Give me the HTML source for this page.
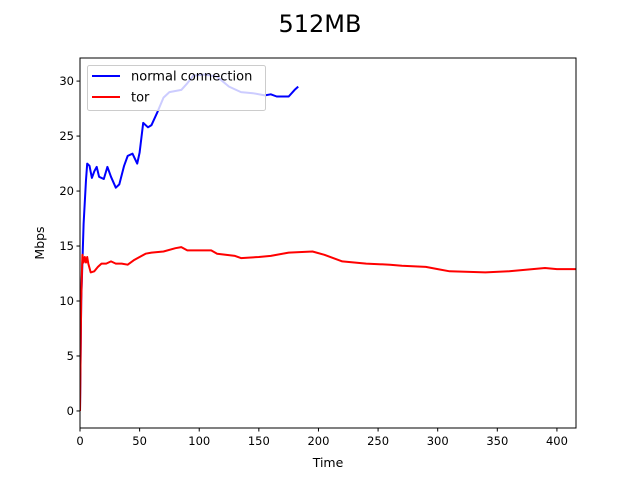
<!DOCTYPE html>
<html><head><meta charset="utf-8"><style>body{margin:0;background:#fff}svg{display:block;font-family:"DejaVu Sans","Liberation Sans",sans-serif}</style></head>
<body>
<svg id="chart" width="640" height="480"></svg>
<script>
const xTicks=[0,50,100,150,200,250,300,350,400];
const yTicks=[0,5,10,15,20,25,30];
const blueT=[0,1,3,5,6,8,10,12,14,16,20,23,26,30,33,37,40,44,48,50,53,57,60,65,70,75,85,90,95,105,115,125,135,145,155,160,165,175,180,183];
const blueV=[0,10,17,21,22.5,22.3,21.2,21.8,22.2,21.3,21.1,22.2,21.3,20.3,20.6,22.3,23.2,23.4,22.5,23.5,26.2,25.8,26,27.2,28.5,29,29.2,29.8,30.5,30.6,30.4,29.5,29,28.9,28.7,28.8,28.6,28.6,29.2,29.5];
const redT=[0,1,2,3,4,5,6,7,9,12,15,18,22,26,30,35,40,45,50,55,60,70,80,85,90,110,115,130,135,150,160,175,195,205,220,240,260,270,290,300,310,340,360,390,400,416];
const redV=[0,10,14.2,13.5,14,13.5,14,13.4,12.6,12.7,13.1,13.4,13.4,13.6,13.4,13.4,13.3,13.7,14,14.3,14.4,14.5,14.8,14.9,14.6,14.6,14.3,14.1,13.9,14,14.1,14.4,14.5,14.2,13.6,13.4,13.3,13.2,13.1,12.9,12.7,12.6,12.7,13,12.9,12.9];
const L=80,R=576,T=58,B=428,xmin=0,xmax=416,ymin=-1.55,ymax=32.1;
const X=v=>L+(v-xmin)/(xmax-xmin)*(R-L);
const Y=v=>B-(v-ymin)/(ymax-ymin)*(B-T);
const svg=document.getElementById('chart');
const NS='http://www.w3.org/2000/svg';
function mk(t,a,p){const e=document.createElementNS(NS,t);for(const k in a)e.setAttribute(k,a[k]);(p||svg).appendChild(e);return e;}
const clip=mk('clipPath',{id:'c'});mk('rect',{x:L,y:T,width:R-L,height:B-T},clip);
const g=mk('g',{'clip-path':'url(#c)'});
function lineG(ts,vs,c,name){
 const d=ts.map((t,i)=>(i?'L':'M')+X(t).toFixed(1)+','+Y(vs[i]).toFixed(1)).join('');
 const p=mk('path',{d:d,fill:'none',stroke:c,'stroke-width':2,'stroke-linejoin':'round'},g);
 
 
}
lineG(blueT,blueV,'#0000ff','normal-connection-line');
lineG(redT,redV,'#ff0000','tor-line');
const frame=mk('rect',{x:L,y:T,width:R-L,height:B-T,fill:'none',stroke:'#000','stroke-width':1});


xTicks.forEach(v=>{const x=X(v);mk('line',{x1:x,x2:x,y1:B,y2:B+3.5,stroke:'#000'});
 const t=mk('text',{x:x,y:B+17,'font-size':11.5,'text-anchor':'middle'});t.textContent=v;
 
 });
yTicks.forEach(v=>{const y=Y(v);mk('line',{x1:L-3.5,x2:L,y1:y,y2:y,stroke:'#000'});
 const t=mk('text',{x:L-6,y:y+4,'font-size':11.5,'text-anchor':'end'});t.textContent=v;
 
 });
const title=mk('text',{x:320,y:32,'font-size':24,'text-anchor':'middle'});title.textContent='512MB';


const xl=mk('text',{x:328,y:467,'font-size':12.5,'text-anchor':'middle'});xl.textContent='Time';


const yl=mk('text',{x:44,y:243,'font-size':12.5,'text-anchor':'middle',transform:'rotate(-90 44 243)'});yl.textContent='Mbps';


const lg=mk('g',{});


mk('rect',{x:87.5,y:65.5,width:178,height:45,rx:2,fill:'rgba(255,255,255,0.8)',stroke:'#ccc'},lg);
mk('line',{x1:92,x2:120,y1:76,y2:76,stroke:'#0000ff','stroke-width':2},lg);
mk('line',{x1:92,x2:120,y1:97,y2:97,stroke:'#ff0000','stroke-width':2},lg);
const t1=mk('text',{x:131,y:80.5,'font-size':13},lg);t1.textContent='normal connection';


const t2=mk('text',{x:131,y:101.5,'font-size':13},lg);t2.textContent='tor';


</script>
</body></html>
